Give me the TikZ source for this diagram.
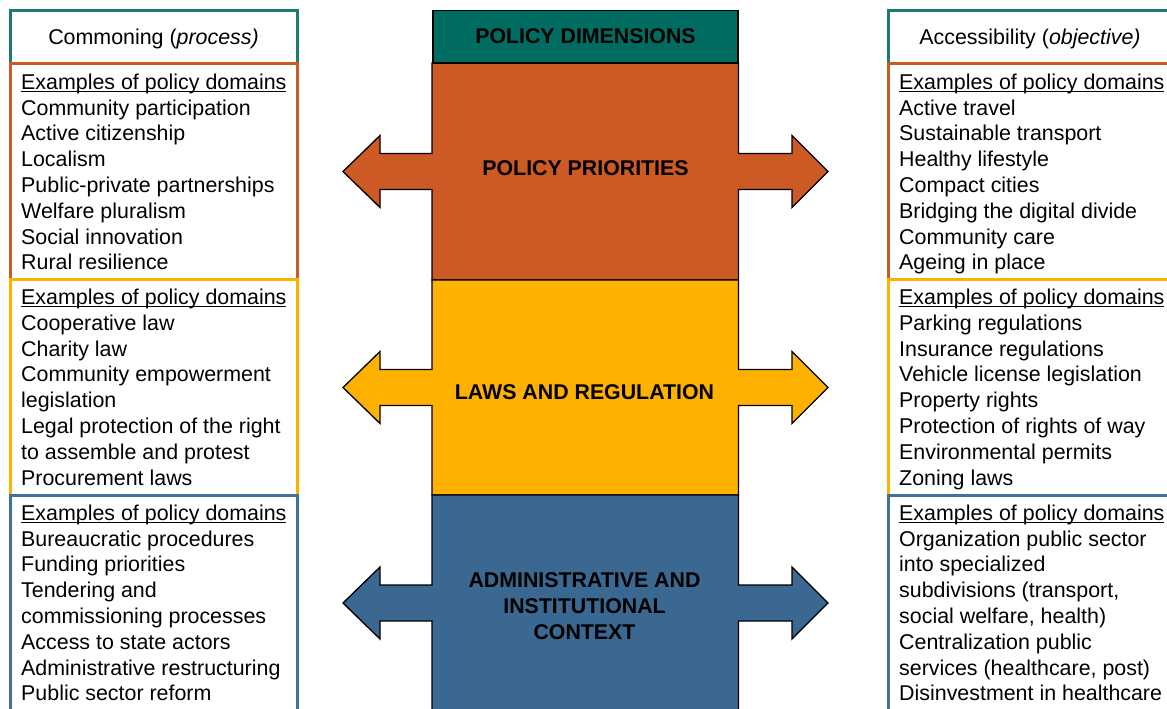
\documentclass[tikz,border=0pt]{standalone}
\usepackage{fontspec}
\setmainfont{Liberation Sans}
\definecolor{pteal}{HTML}{006B61}
\definecolor{ptealline}{HTML}{1A7B72}
\definecolor{porange}{HTML}{CD5A24}
\definecolor{pyellow}{HTML}{FFB100}
\definecolor{pblue}{HTML}{3B6891}
\definecolor{pblueline}{HTML}{41709A}
\newcommand\myul[1]{\setbox0\hbox{#1}\rlap{\rule[-2.8pt]{\wd0}{1.3pt}}\box0}
\begin{document}
\begin{tikzpicture}[x=1pt,y=-1pt,
  colbox/.style={line width=2.8pt, fill=white},
  band/.style={draw=black, line width=1.3pt, line join=miter},
  listtxt/.style={anchor=north west, inner sep=0pt, align=left, font=\fontsize{21.4}{25.8}\selectfont},
  headtxt/.style={anchor=base, inner sep=0pt, font=\fontsize{21.4}{25.8}\selectfont},
  bandtxt/.style={inner sep=0pt, align=center, font=\bfseries\fontsize{21.33}{25.7}\selectfont}]
\useasboundingbox (0,0) rectangle (1167,709);
\clip (0,0) rectangle (1167,709);

% ---------- centre column ----------
\foreach \T/\B/\col in {63/280/porange, 280/495/pyellow, 495/711/pblue}{
  \pgfmathsetmacro\C{(\T+\B)/2}
  \draw[band, fill=\col] (432,\T) -- (738.5,\T) -- (738.5,\C-18) -- (792,\C-18) -- (792,\C-36)
    -- (828,\C) -- (792,\C+36) -- (792,\C+18) -- (738.5,\C+18) -- (738.5,\B) -- (432,\B)
    -- (432,\C+18) -- (380,\C+18) -- (380,\C+36) -- (343,\C) -- (380,\C-36) -- (380,\C-18)
    -- (432,\C-18) -- cycle;
}
\draw[band, fill=pteal] (433,10.5) rectangle (738,63);

\node[bandtxt, anchor=base] (dim) at (585.5,44) {POLICY DIMENSIONS};
\node[bandtxt, anchor=base] (pri) at (585.5,175) {POLICY PRIORITIES};
\node[bandtxt, anchor=base] (law) at (584.5,399) {LAWS AND REGULATION};
\node[bandtxt, anchor=north] (adm) at (584.5,570.7) {\rule{0pt}{17pt}ADMINISTRATIVE AND\\INSTITUTIONAL\\CONTEXT};

% ---------- left column ----------
\draw[colbox, draw=ptealline] (10.8,10.8) rectangle (297.3,63.3);
\draw[colbox, draw=porange] (10.8,63.3) rectangle (297.3,279.5);
\draw[colbox, draw=pyellow] (10.8,279.5) rectangle (297.3,495.3);
\draw[colbox, draw=pblueline] (10.8,495.3) rectangle (297.3,730);

\node[headtxt] (lhead) at (153.5,44.3) {Commoning (\textit{process)}};
\node[listtxt] (lpri) at (21,72) {\rule{0pt}{17pt}\myul{Examples of policy domains}\\
Community participation\\Active citizenship\\Localism\\Public-private partnerships\\
Welfare pluralism\\Social innovation\\Rural resilience};
\node[listtxt] (llaw) at (21,287.3) {\rule{0pt}{17pt}\myul{Examples of policy domains}\\
Cooperative law\\Charity law\\Community empowerment\\legislation\\
Legal protection of the right\\to assemble and protest\\Procurement laws};
\node[listtxt] (ladm) at (21,503) {\rule{0pt}{17pt}\myul{Examples of policy domains}\\
Bureaucratic procedures\\Funding priorities\\Tendering and\\commissioning processes\\
Access to state actors\\Administrative restructuring\\Public sector reform};

% ---------- right column ----------
\draw[colbox, draw=ptealline] (888.3,10.8) rectangle (1176,63.3);
\draw[colbox, draw=porange] (888.3,63.3) rectangle (1176,279.5);
\draw[colbox, draw=pyellow] (888.3,279.5) rectangle (1176,495.3);
\draw[colbox, draw=pblueline] (888.3,495.3) rectangle (1176,730);

\node[headtxt] (rhead) at (1030,44.3) {Accessibility (\textit{objective)}};
\node[listtxt] (rpri) at (899,72) {\rule{0pt}{17pt}\myul{Examples of policy domains}\\
Active travel\\Sustainable transport\\Healthy lifestyle\\Compact cities\\
Bridging the digital divide\\Community care\\Ageing in place};
\node[listtxt] (rlaw) at (899,287.3) {\rule{0pt}{17pt}\myul{Examples of policy domains}\\
Parking regulations\\Insurance regulations\\Vehicle license legislation\\Property rights\\
Protection of rights of way\\Environmental permits\\Zoning laws};
\node[listtxt] (radm) at (899,503) {\rule{0pt}{17pt}\myul{Examples of policy domains}\\
Organization public sector\\into specialized\\subdivisions (transport,\\social welfare, health)\\
Centralization public\\services (healthcare, post)\\Disinvestment in healthcare};
\end{tikzpicture}
\end{document}
